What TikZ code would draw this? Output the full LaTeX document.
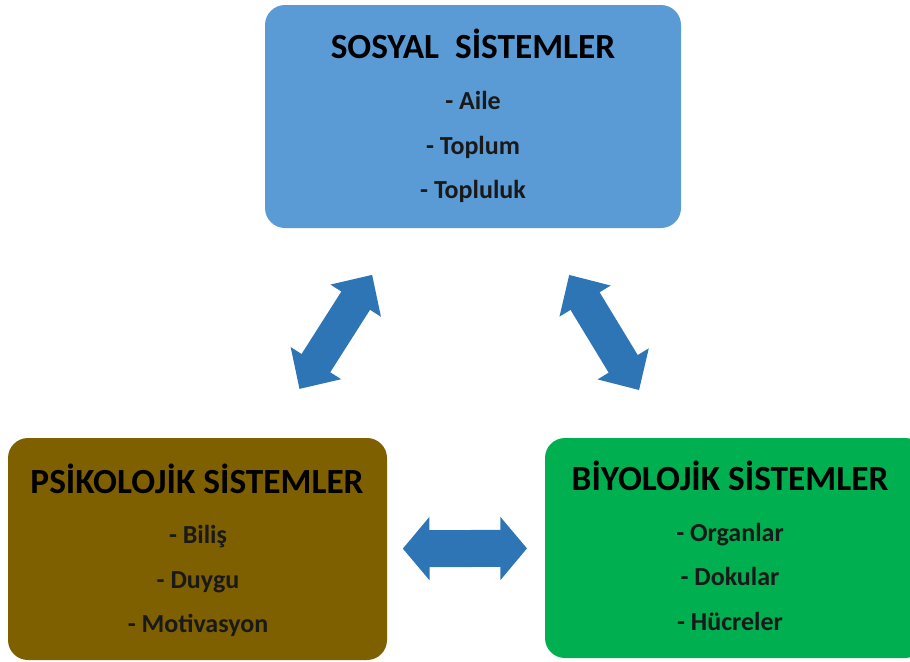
\documentclass[tikz,border=0pt]{standalone}
\usepackage{fontspec}
\setmainfont{Carlito}
\usetikzlibrary{arrows.meta,calc}
\definecolor{socblue}{HTML}{5B9BD5}
\definecolor{psybrown}{HTML}{7F6000}
\definecolor{biogreen}{HTML}{00B050}
\definecolor{linkblue}{HTML}{2E75B6}
\begin{document}
\begin{tikzpicture}[x=0.75pt,y=-0.75pt,
  sysbox/.style={rounded corners=15pt, inner sep=0pt, draw=none},
  systitle/.style={font=\bfseries\fontsize{26.5}{30}\selectfont, text=black, inner sep=0pt, anchor=base},
  sysitem/.style={font=\bfseries\fontsize{19.5}{22}\selectfont, text=black!90, inner sep=0pt, anchor=base},
  diaglink/.style={draw=linkblue, line width=25.5pt,
    {Triangle[length=23pt,width=43.5pt]}-{Triangle[length=23pt,width=43.5pt]}},
  flatlink/.style={draw=linkblue, line width=27.75pt,
    {Triangle[length=20pt,width=46.5pt]}-{Triangle[length=20pt,width=46.5pt]}}]
\useasboundingbox (0,0) rectangle (910,661);
\clip (0,0) rectangle (910,661);

% system boxes
\node[sysbox, fill=socblue, minimum width=312pt, minimum height=167.25pt] (sosyal) at (473,116.5) {};
\node[sysbox, fill=psybrown, minimum width=284.25pt, minimum height=166.5pt] (psiko) at (197.5,549) {};
\node[sysbox, fill=biogreen, minimum width=285pt, minimum height=165pt] (bio) at (735,548) {};

% social systems
\node[systitle] (t1) at (473,58) {SOSYAL\ \ SİSTEMLER};
\node[sysitem] (s1) at (473,109) {- Aile};
\node[sysitem] (s2) at (473,154) {- Toplum};
\node[sysitem] (s3) at (473,198) {- Topluluk};

% psychological systems
\node[systitle] (t2) at (197,493) {PSİKOLOJİK SİSTEMLER};
\node[sysitem] (p1) at (198,543) {- Biliş};
\node[sysitem] (p2) at (198,588) {- Duygu};
\node[sysitem] (p3) at (198,632) {- Motivasyon};

% biological systems
\node[systitle] (t3) at (730,490) {BİYOLOJİK SİSTEMLER};
\node[sysitem] (b1) at (730,541) {- Organlar};
\node[sysitem] (b2) at (730,585) {- Dokular};
\node[sysitem] (b3) at (730,630) {- Hücreler};

% two-way links between the systems
\draw[diaglink] ($(sosyal.center)!0.366!(psiko.center)$) -- ($(sosyal.center)!0.630!(psiko.center)$);
\draw[diaglink] ($(sosyal.center)!0.367!(bio.center)$) -- ($(sosyal.center)!0.634!(bio.center)$);
\draw[flatlink] ($(psiko.center)!0.382!(bio.center)$) -- ($(psiko.center)!0.613!(bio.center)$);
\end{tikzpicture}
\end{document}
